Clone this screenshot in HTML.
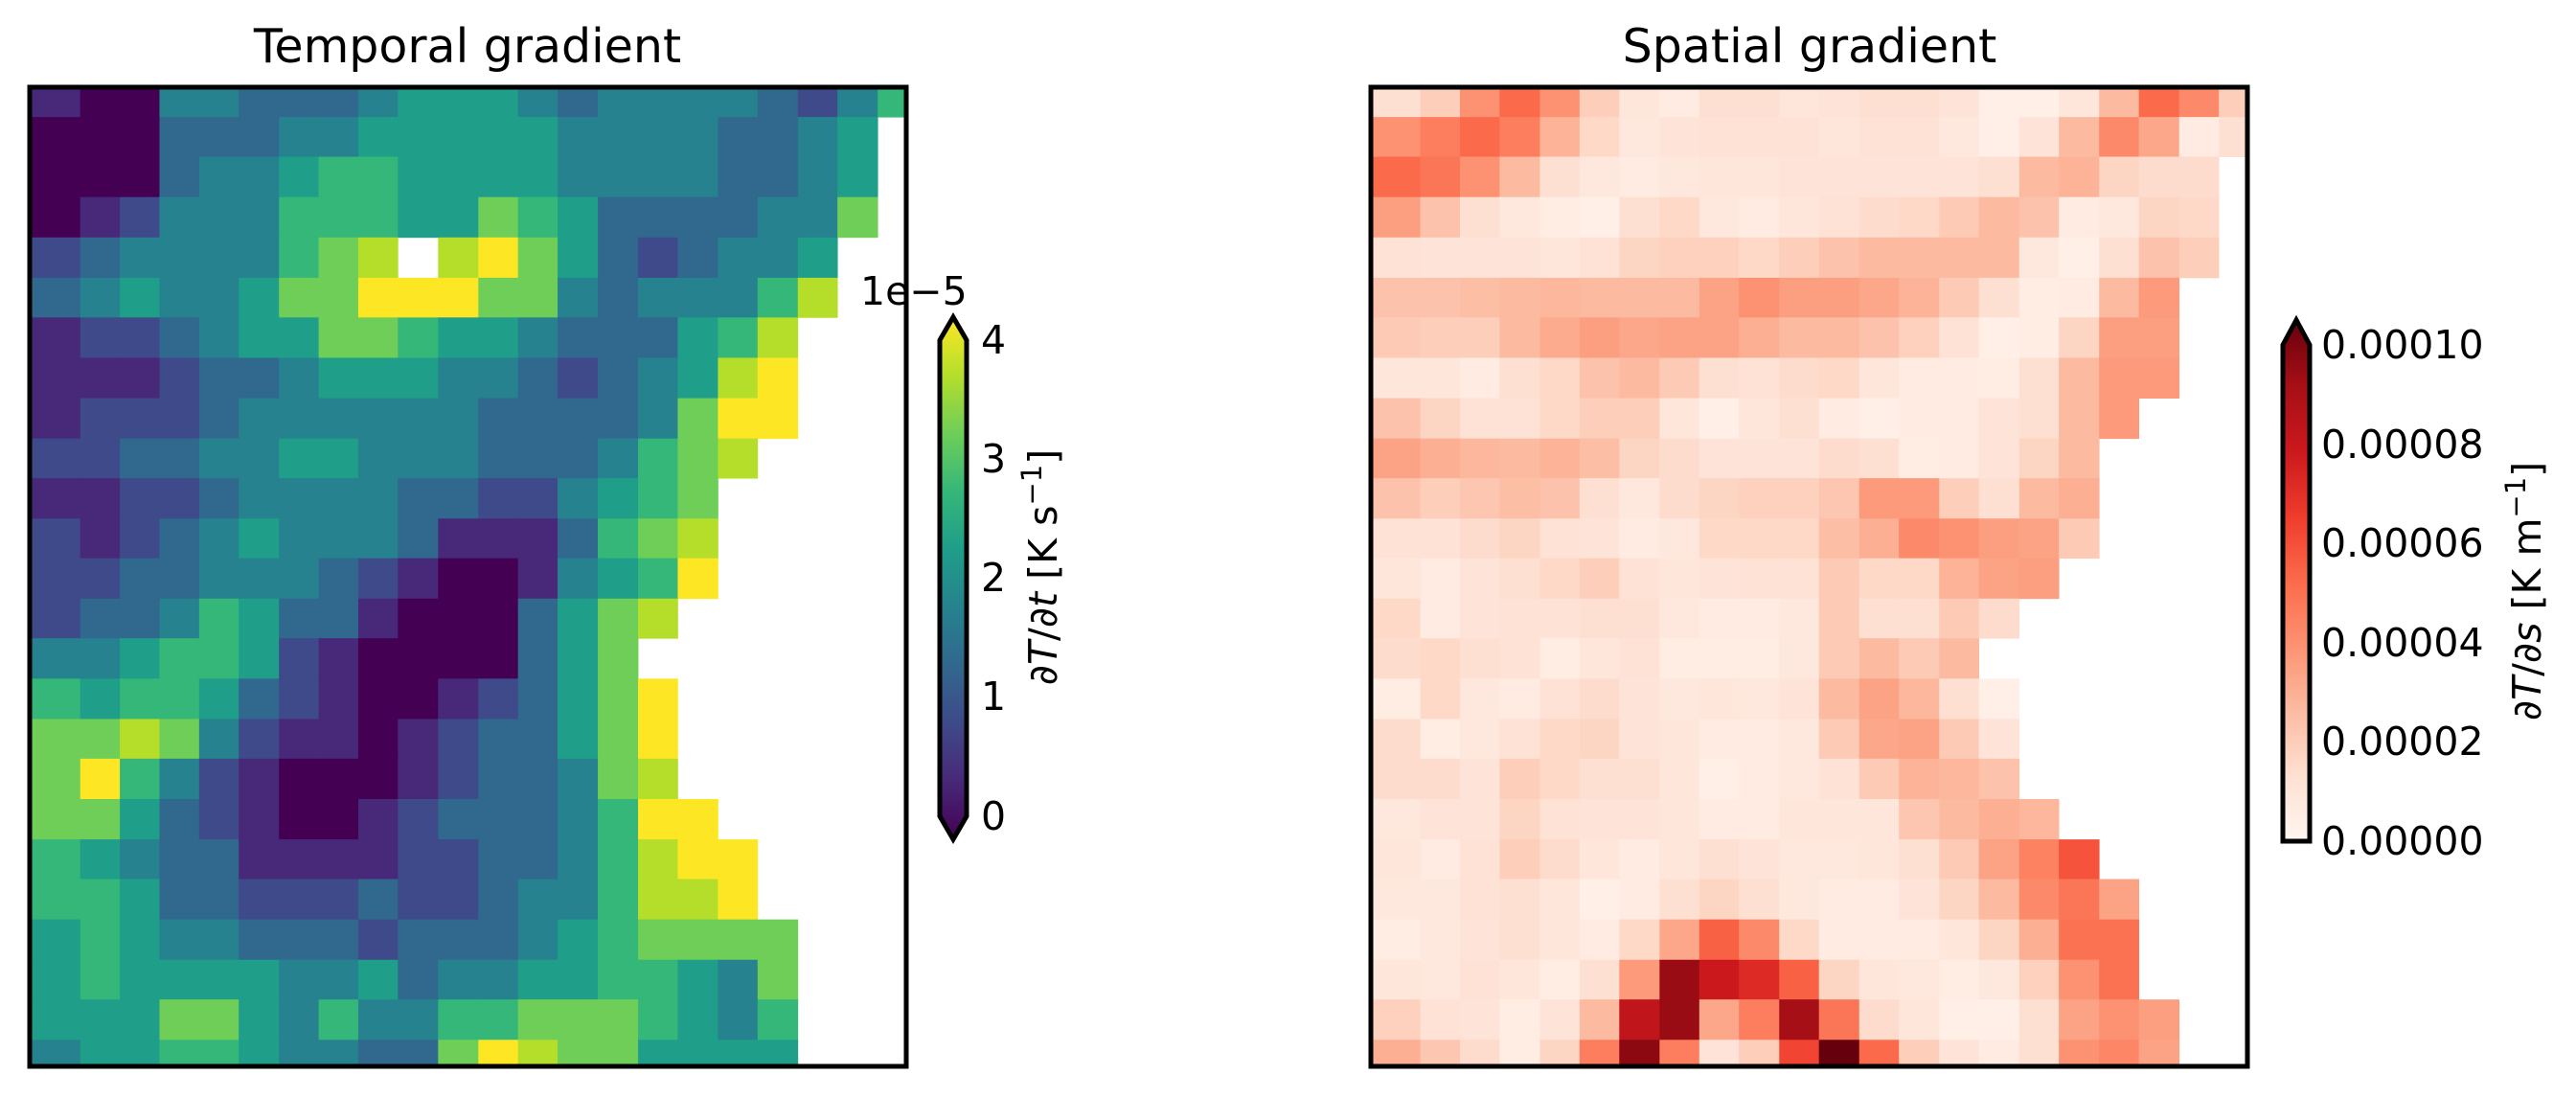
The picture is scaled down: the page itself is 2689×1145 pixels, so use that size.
<!DOCTYPE html>
<html><head><meta charset="utf-8"><style>
html,body{margin:0;padding:0;background:#fff;}
svg{display:block}
text{font-family:"DejaVu Sans","Liberation Sans",sans-serif;fill:#000}
</style></head><body>
<svg id="s" width="2689" height="1145" xmlns="http://www.w3.org/2000/svg">
<defs>
<linearGradient id="gv" x1="0" y1="1" x2="0" y2="0">
<stop offset="0" stop-color="#440154"/><stop offset="0.111" stop-color="#482878"/><stop offset="0.222" stop-color="#3e4a89"/><stop offset="0.333" stop-color="#31688e"/><stop offset="0.444" stop-color="#26828e"/><stop offset="0.556" stop-color="#1f9e89"/><stop offset="0.667" stop-color="#35b779"/><stop offset="0.778" stop-color="#6ece58"/><stop offset="0.889" stop-color="#b5de2b"/><stop offset="1" stop-color="#fde725"/>
</linearGradient>
<linearGradient id="gr" x1="0" y1="1" x2="0" y2="0">
<stop offset="0" stop-color="#fff5f0"/><stop offset="0.125" stop-color="#fee0d2"/><stop offset="0.25" stop-color="#fcbba1"/><stop offset="0.375" stop-color="#fc9272"/><stop offset="0.5" stop-color="#fb6a4a"/><stop offset="0.625" stop-color="#ef3b2c"/><stop offset="0.75" stop-color="#cb181d"/><stop offset="0.875" stop-color="#a50f15"/><stop offset="1" stop-color="#67000d"/>
</linearGradient>
</defs>
<text x="488" y="65" font-size="49" text-anchor="middle">Temporal gradient</text>
<text x="1889" y="65" font-size="49" text-anchor="middle">Spatial gradient</text>
<svg id="L" x="29" y="89" width="919" height="1026" viewBox="44 44 1444 1486" preserveAspectRatio="none"></svg>
<svg id="R" x="1429" y="89" width="919" height="1026" viewBox="14 44 1442 1486" preserveAspectRatio="none"></svg>
<rect x="31" y="91" width="915" height="1022" fill="none" stroke="#000" stroke-width="5"/>
<rect x="1431" y="91" width="915" height="1022" fill="none" stroke="#000" stroke-width="5"/>
<!-- left colorbar -->
<polygon points="981,355 995,331 1009,355 1009,852 995,876 981,852" fill="url(#gv)" stroke="#000" stroke-width="5"/>
<text x="898" y="318" font-size="41">1e−5</text>
<g font-size="41">
<text x="1024" y="369">4</text><text x="1024" y="493">3</text><text x="1024" y="617">2</text><text x="1024" y="741">1</text><text x="1024" y="866">0</text>
</g>
<text transform="translate(1103,592) rotate(-90)" font-size="41" text-anchor="middle"><tspan>∂</tspan><tspan font-style="italic">T</tspan><tspan>/∂</tspan><tspan font-style="italic">t</tspan><tspan> [K s</tspan><tspan font-size="29" dy="-16">−1</tspan><tspan dy="16">]</tspan></text>
<!-- right colorbar -->
<polygon points="2383,360 2397,334 2411,360 2411,878 2383,878" fill="url(#gr)" stroke="#000" stroke-width="5"/>
<g font-size="41">
<text x="2423" y="374">0.00010</text><text x="2423" y="478">0.00008</text><text x="2423" y="581">0.00006</text><text x="2423" y="685">0.00004</text><text x="2423" y="788">0.00002</text><text x="2423" y="892">0.00000</text>
</g>
<text transform="translate(2652,617) rotate(-90)" font-size="41" text-anchor="middle"><tspan>∂</tspan><tspan font-style="italic">T</tspan><tspan>/∂</tspan><tspan font-style="italic">s</tspan><tspan> [K m</tspan><tspan font-size="29" dy="-16">−1</tspan><tspan dy="16">]</tspan></text>
</svg>
<script>
var NS="http://www.w3.org/2000/svg";
var ry=[48,92,152,213,274,335,395,456,517,578,638,699,759,820,880,941,1002,1062,1123,1184,1244,1305,1366,1426,1487,1528];
var lx=[44,130,195,260,325,390,456,521,586,651,717,783,848,913,979,1045,1110,1176,1241,1307,1372,1438,1488];
var rx=[14,98,163,228,294,359,424,490,555,620,686,751,817,882,948,1013,1079,1144,1210,1275,1341,1406,1456];
var V=["#440154","#482878","#3e4a89","#31688e","#26828e","#1f9e89","#35b779","#6ece58","#b5de2b","#fde725"];
var L=[
"1 0 0 4 4 3 3 3 4 5 5 5 4 3 4 4 4 4 3 2 4 6",
"0 0 0 3 3 3 4 4 5 5 5 5 5 4 4 4 4 3 3 4 5 .",
"0 0 0 3 4 4 5 6 6 5 5 5 5 4 4 4 4 3 3 4 5 .",
"0 1 2 4 4 4 6 6 6 5 5 7 6 5 3 3 3 3 4 4 7 .",
"2 3 4 4 4 4 6 7 8 . 8 9 7 5 3 2 3 4 4 5 . .",
"3 4 5 4 4 5 7 7 9 9 9 7 7 4 3 4 4 4 6 8 . .",
"1 2 2 3 4 5 5 7 7 6 5 5 4 3 3 3 5 6 8 . . .",
"1 1 1 2 3 3 4 5 5 5 4 4 3 2 3 4 5 8 9 . . .",
"1 2 2 2 3 4 4 4 4 4 4 3 3 3 3 4 7 9 9 . . .",
"2 2 3 3 4 4 5 5 4 4 4 3 3 3 4 6 7 8 . . . .",
"1 1 2 2 3 4 4 4 4 3 3 2 2 4 5 6 7 . . . . .",
"2 1 2 3 4 5 4 4 4 3 1 1 1 3 6 7 8 . . . . .",
"2 2 3 3 4 4 4 3 2 1 0 0 1 4 5 6 9 . . . . .",
"2 3 3 4 6 5 3 3 1 0 0 0 3 5 7 8 . . . . . .",
"4 4 5 6 6 5 2 1 0 0 0 0 3 5 7 . . . . . . .",
"6 5 6 6 5 3 2 1 0 0 1 2 3 5 7 9 . . . . . .",
"7 7 8 7 4 2 1 1 0 1 2 3 3 5 7 9 . . . . . .",
"7 9 6 4 2 1 0 0 0 1 2 3 3 4 7 8 . . . . . .",
"7 7 5 3 2 1 0 0 1 2 3 3 3 4 6 9 9 . . . . .",
"6 5 4 3 3 1 1 1 1 2 2 3 3 4 6 8 9 9 . . . .",
"6 6 5 3 3 2 2 2 3 2 2 3 4 4 6 8 8 9 . . . .",
"5 6 5 4 4 3 3 3 2 3 3 3 4 5 6 7 7 7 7 . . .",
"5 6 5 5 5 5 4 4 5 3 4 4 5 5 6 6 5 4 7 . . .",
"5 5 5 7 7 5 4 6 4 4 6 6 7 7 7 6 5 4 6 . . .",
"4 5 5 6 6 5 4 4 3 3 7 9 8 7 7 5 5 5 5 . . ."];
var R=[
"1 1.5 3 4 3 1.5 0.7 0.5 1 1 0.7 0.8 1 1 0.8 0.3 0.3 0.7 2 4 3.2 1.5",
"3 3.5 4 3.5 2.2 1.2 0.6 0.8 0.9 0.9 0.9 0.7 0.9 0.9 0.6 0.3 0.8 2 3.2 2.5 0.5 1",
"4 3.7 3 2 1 0.6 0.5 0.6 0.7 0.7 0.8 0.8 0.8 0.8 0.8 1 2 2.2 1.3 1.1 1.1 .",
"2.7 1.8 1 0.6 0.4 0.3 1 1.2 0.6 0.5 0.7 0.9 1.1 1.2 1.6 2 1.8 0.5 0.6 1.3 1.2 .",
"0.9 0.8 0.8 0.8 0.7 0.9 1.3 1.4 1.4 1.2 1.5 1.8 2 2 2 2 0.6 0.3 1 1.8 1.5 .",
"1.8 1.8 1.9 2 2.1 2 2 2 2.6 3 2.7 2.7 2.5 2.2 1.6 1 0.4 0.5 2 2.8 . .",
"1.6 1.5 1.5 2 2.4 2.7 2.5 2.6 2.6 2.3 2 2 1.8 1.4 0.9 0.3 0.4 1.3 2.7 2.7 . .",
"0.7 0.7 0.5 1 1.2 1.8 2 1.6 1 0.9 1.1 1.2 0.7 0.5 0.5 0.4 1 2 2.8 2.8 . .",
"1.8 1.3 0.9 0.9 1.2 1.5 1.5 0.7 0.3 0.7 1 0.5 0.3 0.5 0.5 0.8 1 2 2.8 . . .",
"2.6 2.3 2.1 2 2.2 1.9 1.3 1.1 0.8 0.8 0.8 1.1 1 0.4 0.5 0.8 1.3 2 . . . .",
"1.8 1.5 1.7 1.9 1.8 1 0.6 1.1 1.3 1.4 1.4 1.7 2.8 2.8 1.5 1 2 2.3 . . . .",
"0.9 0.9 1.1 1.3 0.9 0.8 0.5 0.6 1.2 1.2 1.2 1.9 2.3 3.2 3 2.7 2.6 1.6 . . . .",
"0.7 0.5 0.8 1 1.2 1.5 0.9 0.7 0.8 0.9 0.9 1.6 1.2 1.2 2.2 2.6 2.7 . . . . .",
"1.2 0.5 0.8 0.9 0.9 1 1 0.6 0.5 0.5 0.6 1.6 1 1 1.6 1.1 . . . . . .",
"1.1 1.2 1 0.9 0.4 0.7 0.9 0.4 0.4 0.4 0.6 1.6 2 1.6 2 . . . . . . .",
"0.4 1.2 0.6 0.5 0.9 1.1 0.8 0.6 0.7 0.6 0.8 2 2.6 2.1 1 0.3 . . . . . .",
"1.1 0.4 0.6 0.9 1.2 1.3 0.8 0.7 0.5 0.5 0.6 1.6 2.5 2.6 1.6 0.8 . . . . . .",
"1.1 1.1 0.8 1.5 1.2 1 1 0.7 0.3 0.5 0.6 0.9 1.6 2.2 2.1 1.8 . . . . . .",
"0.6 0.8 0.8 1.3 0.9 0.8 0.8 0.7 0.5 0.5 0.7 0.7 0.7 1.7 2 2.3 2.1 . . . . .",
"0.7 0.5 0.9 1.5 1.1 0.7 0.5 0.7 1 0.8 0.6 0.6 0.7 1 1.6 2.6 3.4 4.5 . . . .",
"0.6 0.6 0.9 1 0.7 0.3 0.5 1 1.3 1 0.6 0.5 0.5 0.8 1.3 2 3.2 3.7 2.6 . . .",
"0.4 0.6 0.8 1 0.7 0.5 1.2 2.5 4.2 3.2 1.2 0.5 0.5 0.5 0.7 1.3 2.3 3.8 3.8 . . .",
"0.7 0.6 0.9 0.7 0.4 1 2.8 7.2 6 5.5 4.2 1.3 0.7 0.6 0.4 0.6 1.4 3 3.8 . . .",
"1.4 0.9 0.8 0.4 0.8 2 6.3 7.2 2.5 3.5 7 3.7 1.1 0.7 0.3 0.3 1 2.6 3 2.7 . .",
"2.3 1.7 1.1 0.4 1.3 3.5 7.4 3.5 0.8 1.5 4.8 8 4 1.5 0.8 0.5 1 3 3.3 2.6 . ."];
var RS=[[255,245,240],[254,224,210],[252,187,161],[252,146,114],[251,106,74],[239,59,44],[203,24,29],[165,15,21],[103,0,13]];
function red(v){v=Math.max(0,Math.min(8,v));var i=Math.min(7,Math.floor(v)),f=v-i,a=RS[i],b=RS[i+1];
return "rgb("+[0,1,2].map(function(k){return Math.round(a[k]+(b[k]-a[k])*f)}).join(",")+")";}
function draw(id,data,xs,fn){var g=document.getElementById(id),h="";
for(var r=0;r<data.length;r++){var c=data[r].split(" ");for(var j=0;j<c.length;j++){if(c[j]==".")continue;
var x0=j==0?xs[0]-4:xs[j],x1=xs[j+1]+0.6,y0=r==0?ry[0]-4:ry[r],y1=ry[r+1]+0.6;
h+='<rect x="'+x0+'" y="'+y0+'" width="'+(x1-x0)+'" height="'+(y1-y0)+'" fill="'+fn(c[j])+'"/>';}}
g.innerHTML=h;}
draw("L",L,lx,function(s){return V[+s]});
draw("R",R,rx,function(s){return red(parseFloat(s))});
</script>
</body></html>
